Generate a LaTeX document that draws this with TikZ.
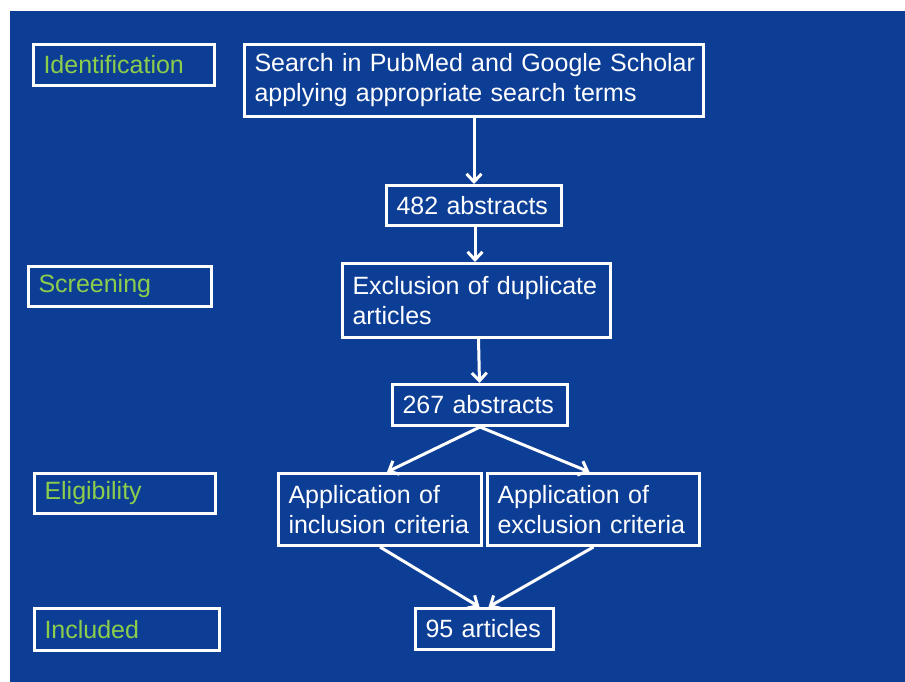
\documentclass[tikz,border=0pt]{standalone}
\usepackage{fontspec}
\setmainfont{Liberation Sans}
\usetikzlibrary{arrows.meta,calc}
\definecolor{bg}{RGB}{13,62,150}
\definecolor{lbl}{RGB}{140,205,75}
\tikzset{
  box/.style={draw=white, line width=3pt, text=white, font=\fontsize{25}{30}\selectfont,
    inner xsep=10pt, inner ysep=0pt, align=left, anchor=north west},
  stage/.style={box, text=lbl},
  arr/.style={draw=white, line width=3pt, -{Straight Barb[length=8pt,width=15pt]}}
}
\begin{document}
\begin{tikzpicture}[x=1pt,y=-1pt]
\useasboundingbox (0,0) rectangle (905,682);
\fill[white] (0,0) rectangle (905,682);
\fill[bg] (10,11) rectangle (905,682);
% stage labels
\node[stage, minimum width=181pt, minimum height=41pt, text width=161pt] (ident) at (32,43) {Identification};
\node[stage, minimum width=183pt, minimum height=40pt, text width=163pt] (screen) at (27,265) {Screening};
\node[stage, minimum width=181pt, minimum height=40pt, text width=161pt] (elig) at (33,472) {Eligibility};
\node[stage, minimum width=185pt, minimum height=42pt, text width=165pt] (incl) at (33,607) {Included};
% flow boxes
\node[box, minimum width=459pt, minimum height=72pt, text width=439pt] (search) at (243,43) {\mbox{Search in PubMed and Google Scholar}\\\mbox{applying appropriate search terms}};
\node[box, minimum width=175pt, minimum height=40pt, text width=155pt] (a482) at (385,184) {482 abstracts};
\node[box, minimum width=268pt, minimum height=74pt, text width=248pt] (dup) at (341,262) {\mbox{Exclusion of duplicate}\\articles};
\node[box, minimum width=175pt, minimum height=41pt, text width=155pt] (a267) at (391,383) {267 abstracts};
\node[box, minimum width=203pt, minimum height=72pt, text width=183pt] (inc) at (277,472) {\mbox{Application of}\\\mbox{inclusion criteria}};
\node[box, minimum width=212pt, minimum height=72pt, text width=192pt] (exc) at (486,472) {\mbox{Application of}\\\mbox{exclusion criteria}};
\node[box, minimum width=138pt, minimum height=41pt, text width=118pt] (a95) at (414,607) {95 articles};
% connectors
\draw[arr] (search.south -| a482.north) -- (a482.north);
\draw[arr] ([xshift=1pt]a482.south) -- ([xshift=1pt]a482.south |- dup.north);
\draw[arr] ([xshift=2pt]dup.south) -- ([xshift=3pt]dup.south |- a267.north);
\draw[arr] (a267.south) -- ([xshift=7pt]inc.north);
\draw[arr] (a267.south) -- ([xshift=-4pt]exc.north);
\draw[arr] (inc.south) -- ([xshift=-5pt]a95.north);
\draw[arr] (exc.south) -- ([xshift=4pt]a95.north);
\end{tikzpicture}
\end{document}
